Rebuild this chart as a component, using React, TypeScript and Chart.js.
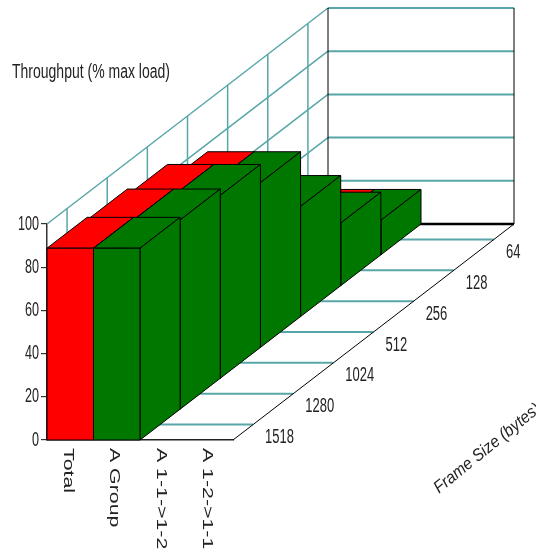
import React, { useEffect, useRef } from "react";
import { Chart, registerables } from "chart.js";

Chart.register(...registerables);

const categories = ["Total", "A Group", "A 1-1->1-2", "A 1-2->1-1"];
const frameSizes = ["64", "128", "256", "512", "1024", "1280", "1518"];
const total = [16, 29, 51, 76.3, 84.7, 87.6, 88.8];
const aGroup = [16, 29, 51, 76.3, 84.7, 87.6, 88.8];
const a11to12 = [0, 0, 0, 0, 0, 0, 0];
const a12to11 = [0, 0, 0, 0, 0, 0, 0];
const yTicks = [0, 20, 40, 60, 80, 100];

const RED = "#ff0000";
const GREEN = "#007800";
const GRID = "#58a6a8";
const EDGE = "#000000";
const TEXT = "#222222";
const DEPTH_DX = 281;

function drawText(
  ctx: CanvasRenderingContext2D,
  text: string,
  x: number,
  y: number,
  opts: { font: string; angle?: number; sx?: number; align?: CanvasTextAlign }
) {
  ctx.save();
  ctx.translate(x, y);
  if (opts.angle) ctx.rotate(opts.angle);
  ctx.scale(opts.sx ?? 1, 1);
  ctx.font = opts.font;
  ctx.fillStyle = TEXT;
  ctx.textAlign = opts.align ?? "left";
  ctx.textBaseline = "middle";
  ctx.fillText(text, 0, 0);
  ctx.restore();
}

const scene3d = {
  id: "scene3d",
  beforeDatasetsDraw(chart: any) {
    const { ctx, scales } = chart;
    const xs = scales.x;
    const ys = scales.y;
    const n = frameSizes.length;
    const dy = ys.getPixelForValue(100) - ys.getPixelForValue(0);
    const band = xs.getPixelForValue(1) - xs.getPixelForValue(0);
    const left = xs.left;
    const right = xs.right;
    const base = ys.getPixelForValue(0);
    const P = (px: number, value: number, d: number): [number, number] => [
      px + DEPTH_DX * d,
      ys.getPixelForValue(value) + dy * d,
    ];
    const line = (a: [number, number], b: [number, number], color: string, w = 1) => {
      ctx.beginPath();
      ctx.moveTo(a[0], a[1]);
      ctx.lineTo(b[0], b[1]);
      ctx.strokeStyle = color;
      ctx.lineWidth = w;
      ctx.stroke();
    };
    const face = (pts: [number, number][], fill: string) => {
      ctx.beginPath();
      pts.forEach((p, i) => (i ? ctx.lineTo(p[0], p[1]) : ctx.moveTo(p[0], p[1])));
      ctx.closePath();
      ctx.fillStyle = fill;
      ctx.fill();
      ctx.strokeStyle = EDGE;
      ctx.lineWidth = 1;
      ctx.stroke();
    };

    ctx.save();
    // walls
    yTicks.forEach((v) => {
      if (v > 0) {
        line(P(left, v, 0), P(left, v, 1), GRID, 1.5);
        line(P(left, v, 1), P(right, v, 1), GRID, 2);
      }
    });
    for (let i = 0; i < n; i++) {
      const d = (i + 0.5) / n;
      line(P(left, 0, d), P(left, 100, d), GRID, 1.5);
      line(P(left, 0, d), P(right, 0, d), GRID, 2);
    }
    line(P(left, 0, 1), P(left, 100, 1), EDGE, 1);
    line(P(right, 0, 1), P(right, 100, 1), EDGE, 1);
    line(P(left, 0, 1), P(right, 0, 1), EDGE, 2.4);
    line(P(right, 0, 0), P(right, 0, 1), EDGE, 1);

    // bars, back row to front row, left column to right column
    chart.data.datasets.forEach((ds: any, i: number) => {
      const d0 = (n - 1 - i) / n;
      const d1 = (n - i) / n;
      ds.data.forEach((v: number, c: number) => {
        if (!v) return;
        const cx = xs.getPixelForValue(c);
        const a = cx - band / 2;
        const b = cx + band / 2;
        const fill = ds.backgroundColor[c];
        face([P(a, v, d0), P(b, v, d0), P(b, v, d1), P(a, v, d1)], fill);
        face([P(b, 0, d0), P(b, v, d0), P(b, v, d1), P(b, 0, d1)], fill);
        face([P(a, 0, d0), P(b, 0, d0), P(b, v, d0), P(a, v, d0)], fill);
      });
    });

    // text
    const bigFont = '20px "Liberation Sans"';
    yTicks.forEach((v) => {
      drawText(ctx, String(v), left - 8, ys.getPixelForValue(v), { font: bigFont, sx: 0.63, align: "right" });
    });
    categories.forEach((label, c) => {
      drawText(ctx, label, xs.getPixelForValue(c) - 2.5, base + 8, {
        font: '15px "Liberation Sans"',
        angle: Math.PI / 2,
        sx: 1.42,
      });
    });
    frameSizes.forEach((label, i) => {
      const d = (n - 0.5 - i) / n;
      const p = P(right, 0, d);
      drawText(ctx, label, p[0] + 12, p[1] + 13, { font: bigFont, sx: 0.65 });
    });
    drawText(ctx, "Throughput (% max load)", 12, 72, { font: bigFont, sx: 0.7 });
    drawText(ctx, "Frame Size (bytes)", 436, 490, {
      font: 'italic 17px "Liberation Sans"',
      angle: -0.68,
      sx: 0.92,
    });
    ctx.restore();
    return false;
  },
};

export default function App() {
  const ref = useRef<HTMLCanvasElement>(null);
  useEffect(() => {
    const series = [total, aGroup, a11to12, a12to11];
    const chart = new Chart(ref.current as HTMLCanvasElement, {
      type: "bar",
      data: {
        labels: categories,
        datasets: frameSizes.map((f, i) => ({
          label: f,
          data: series.map((s) => s[i]),
          backgroundColor: [RED, GREEN, GREEN, GREEN],
        })),
      },
      plugins: [scene3d],
      options: {
        responsive: false,
        animation: false,
        events: [],
        layout: { padding: { top: 224, right: 303, left: 0, bottom: 0 } },
        plugins: { legend: { display: false }, tooltip: { enabled: false }, title: { display: false } },
        scales: {
          x: {
            type: "category",
            ticks: { display: false },
            grid: { display: false },
            border: { display: true, color: "#222222", width: 1.5 },
            afterFit: (s: any) => {
              s.height = 110;
            },
          },
          y: {
            type: "linear",
            min: 0,
            max: 100,
            ticks: { display: false, stepSize: 20 },
            grid: { drawOnChartArea: false, drawTicks: true, tickLength: 6, color: "#333333", lineWidth: 1.2 },
            border: { display: true, color: "#333333", width: 1.5 },
            afterFit: (s: any) => {
              s.width = 47;
            },
          },
        },
      },
    } as any);
    return () => chart.destroy();
  }, []);
  return (
    <canvas
      ref={ref}
      width={536}
      height={550}
      style={{ position: "fixed", left: 0, top: 0, display: "block", background: "#ffffff" }}
    />
  );
}
